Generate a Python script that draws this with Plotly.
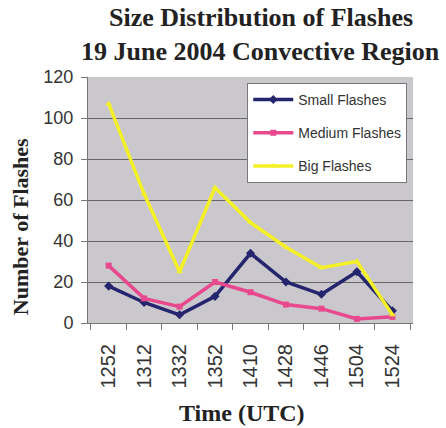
import plotly.graph_objects as go

times = ["1252", "1312", "1332", "1352", "1410", "1428", "1446", "1504", "1524"]
small = [18, 10, 4, 13, 34, 20, 14, 25, 6]
medium = [28, 12, 8, 20, 15, 9, 7, 2, 3]
big = [107, 63, 25, 66, 49, 37, 27, 30, 4]

series = [
    ("Small Flashes", small, "#25256e", "diamond", 7),
    ("Medium Flashes", medium, "#e8488e", "square", 6),
    ("Big Flashes", big, "#f4f028", "triangle-up", 6),
]

fig = go.Figure()
for i, (name, vals, col, sym, ms) in enumerate(series):
    fig.add_trace(go.Scatter(
        x=times, y=vals, name=name, mode="lines+markers",
        line=dict(color=col, width=3.5),
        marker=dict(symbol=sym, size=ms, color=col),
        legendgroup=f"g{i}",
    ))

serif = "Liberation Serif"
sans = "Liberation Sans"

fig.update_layout(
    width=446, height=428,
    margin=dict(l=88, r=33, t=77, b=105),
    paper_bgcolor="white",
    plot_bgcolor="#cac8cc",
    showlegend=True,
    legend=dict(
        x=0.49, y=0.976, xanchor="left", yanchor="top",
        bgcolor="white", bordercolor="#777", borderwidth=1,
        font=dict(family=sans, size=14, color="#333"),
        tracegroupgap=12,
        traceorder="grouped",
        itemwidth=40,
    ),
    xaxis=dict(
        type="category",
        tickangle=-90,
        tickfont=dict(family=sans, size=20, color="#333"),
        ticks="outside", ticklen=6, tickcolor="#777",
        tickson="boundaries",
        ticklabelstandoff=12,
        showline=True, linecolor="#777", linewidth=1,
        showgrid=False,
        automargin=False,
    ),
    yaxis=dict(
        range=[0, 120], dtick=20,
        tickfont=dict(family=sans, size=18, color="#333"),
        ticks="outside", ticklen=6, tickcolor="#777",
        ticklabelstandoff=4,
        showline=True, linecolor="#777", linewidth=1,
        showgrid=True, gridcolor="#666", gridwidth=1,
        zeroline=False,
        automargin=False,
    ),
    annotations=[
        dict(text="<b>Size Distribution of Flashes</b>", xref="paper", yref="paper",
             x=0.532, y=1.24, xanchor="center", yanchor="middle", showarrow=False,
             font=dict(family=serif, size=26, color="#222")),
        dict(text="<b>19 June 2004 Convective Region</b>", xref="paper", yref="paper",
             x=0.532, y=1.105, xanchor="center", yanchor="middle", showarrow=False,
             font=dict(family=serif, size=26, color="#222")),
        dict(text="<b>Time (UTC)</b>", xref="paper", yref="paper",
             x=0.474, y=-0.365, xanchor="center", yanchor="middle", showarrow=False,
             font=dict(family=serif, size=24, color="#222")),
        dict(text="<b>Number of Flashes</b>", xref="paper", yref="paper",
             x=-0.209, y=0.39, xanchor="center", yanchor="middle", showarrow=False,
             textangle=-90,
             font=dict(family=serif, size=22, color="#222")),
    ],
)

fig.write_html("out.html")
